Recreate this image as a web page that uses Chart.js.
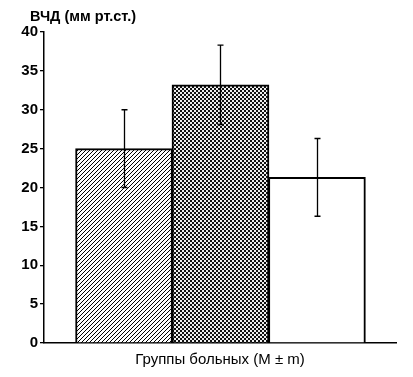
<!DOCTYPE html>
<html>
<head>
<meta charset="utf-8">
<script src="https://cdn.jsdelivr.net/npm/chart.js@4"></script>
<style>
  html, body { margin: 0; padding: 0; background: #fff; }
</style>
</head>
<body>
<canvas id="chart" width="413" height="377"></canvas>
<script>
const groups = ["Группа 1", "Группа 2", "Группа 3"];
const groupPos = [1, 2, 3];
const means = [25.0, 33.2, 21.3];
const errors = [5.0, 5.1, 5.0];
const yTicks = [0, 5, 10, 15, 20, 25, 30, 35, 40];

function hatchPattern(ctx) {
    const c = document.createElement("canvas");
    c.width = 4; c.height = 4;
    const g = c.getContext("2d");
    g.fillStyle = "#fff";
    g.fillRect(0, 0, 4, 4);
    g.strokeStyle = "#000";
    g.lineWidth = 1.0;
    g.beginPath();
    g.moveTo(-1, 5); g.lineTo(5, -1);
    g.moveTo(-1, 1); g.lineTo(1, -1);
    g.moveTo(3, 5); g.lineTo(5, 3);
    g.stroke();
    return ctx.createPattern(c, "repeat");
}

function checkPattern(ctx) {
    const c = document.createElement("canvas");
    c.width = 4; c.height = 4;
    const g = c.getContext("2d");
    g.fillStyle = "#111";
    g.fillRect(0, 0, 4, 4);
    g.fillStyle = "#eee";
    g.fillRect(0, 0, 2, 2);
    g.fillRect(2, 2, 2, 2);
    return ctx.createPattern(c, "repeat");
}

const errorBars = {
    id: "errorBars",
    afterDatasetsDraw(chart) {
        const { ctx, scales: { x, y } } = chart;
        ctx.save();
        ctx.strokeStyle = "#000";
        ctx.lineWidth = 1.3;
        means.forEach((m, i) => {
            const px = Math.round(x.getPixelForValue(groupPos[i])) + 0.5;
            const top = y.getPixelForValue(m + errors[i]);
            const bot = y.getPixelForValue(m - errors[i]);
            ctx.beginPath();
            ctx.moveTo(px, top); ctx.lineTo(px, bot);
            ctx.moveTo(px - 3, top); ctx.lineTo(px + 3, top);
            ctx.moveTo(px - 3, bot); ctx.lineTo(px + 3, bot);
            ctx.stroke();
        });
        ctx.restore();
    }
};

const yTitle = {
    id: "yTitle",
    afterDraw(chart) {
        const ctx = chart.ctx;
        ctx.save();
        ctx.fillStyle = "#000";
        ctx.font = "bold 14.5px 'Liberation Sans', Arial, sans-serif";
        ctx.textBaseline = "middle";
        ctx.fillText("ВЧД (мм рт.ст.)", 30, 17);
        ctx.restore();
    }
};

const canvas = document.getElementById("chart");
const ctx = canvas.getContext("2d");

new Chart(ctx, {
    type: "bar",
    data: {
        labels: groups,
        datasets: [{
            data: means.map((m, i) => ({ x: groupPos[i], y: m })),
            backgroundColor: [hatchPattern(ctx), checkPattern(ctx), "#fff"],
            borderColor: "#000",
            borderWidth: 2,
            barThickness: 97,
        }]
    },
    options: {
        responsive: false,
        animation: false,
        layout: { padding: { top: 32, right: 17, left: 0, bottom: 0 } },
        plugins: {
            legend: { display: false },
            tooltip: { enabled: false },
        },
        scales: {
            x: {
                type: "linear",
                min: 0.17,
                max: 3.82,
                offset: false,
                grid: { display: false },
                ticks: { display: false },
                border: { color: "#000", width: 1.5 },
                title: {
                    display: true,
                    text: "Группы больных (M ± m)",
                    color: "#000",
                    font: { family: "'Liberation Sans', Arial, sans-serif", size: 15 },
                    padding: { top: 0, bottom: 8 },
                },
                afterFit: (s) => { s.height = 34; },
            },
            y: {
                min: 0,
                max: 40,
                afterBuildTicks: (s) => { s.ticks = yTicks.map(v => ({ value: v })); },
                grid: { drawOnChartArea: false, color: "#000", tickLength: 4, lineWidth: 1.3 },
                border: { color: "#000", width: 1.5 },
                ticks: {
                    color: "#000",
                    padding: 2,
                    font: { family: "'Liberation Sans', Arial, sans-serif", size: 15, weight: "bold" },
                },
                afterFit: (s) => { s.width = 44; },
            }
        }
    },
    plugins: [errorBars, yTitle],
});
</script>
</body>
</html>
